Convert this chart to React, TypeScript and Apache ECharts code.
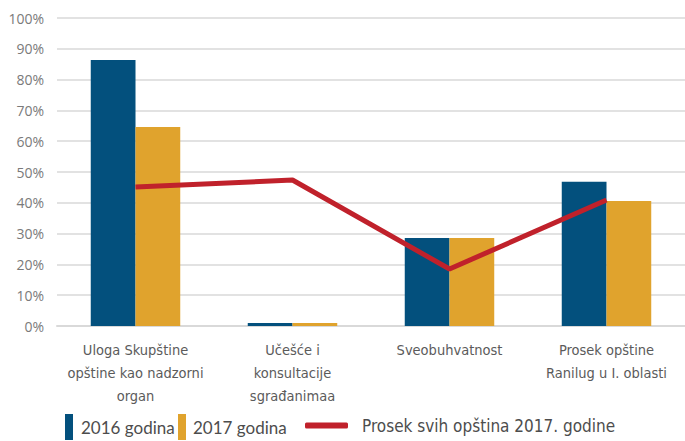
import React, { useEffect, useRef } from "react";
import * as echarts from "echarts";

const categories = [
  "Uloga Skupštine\nopštine kao nadzorni\norgan",
  "Učešće i\nkonsultacije\nsgrađanimaa",
  "Sveobuhvatnost",
  "Prosek opštine\nRanilug u I. oblasti",
];
const values2016 = [86.4, 1, 28.6, 46.8];
const values2017 = [64.6, 1, 28.6, 40.6];
const averageAll2017 = [45.1, 47.4, 18.5, 40.9];
const yTicks = [0, 10, 20, 30, 40, 50, 60, 70, 80, 90, 100];

const BLUE = "#03507d";
const ORANGE = "#e0a32d";
const RED = "#c0212b";
const NARROW = '"DejaVu Sans Condensed", "Liberation Sans Narrow", sans-serif';

export default function App() {
  const ref = useRef<HTMLDivElement>(null);
  useEffect(() => {
    if (!ref.current) return;
    const chart = echarts.init(ref.current, null, { renderer: "svg" });
    chart.setOption({
      animation: false,
      backgroundColor: "#ffffff",
      grid: { left: 57, top: 18, right: -7, height: 308, containLabel: false },
      xAxis: {
        type: "category",
        data: categories,
        axisTick: { show: false },
        axisLine: { lineStyle: { color: "#d9d9d9", width: 2 } },
        axisLabel: {
          interval: 0,
          margin: 12,
          color: "#5b5b5b",
          fontFamily: NARROW,
          fontSize: 14.5,
          lineHeight: 23,
        },
      },
      yAxis: {
        type: "value",
        min: yTicks[0],
        max: yTicks[yTicks.length - 1],
        interval: 10,
        axisLine: { show: false },
        axisTick: { show: false },
        splitLine: { lineStyle: { color: "#d9d9d9", width: 1.5 } },
        axisLabel: {
          formatter: "{value}%",
          margin: 13,
          color: "#7a7a7a",
          fontFamily: '"Open Sans", "Liberation Sans", sans-serif',
          fontSize: 14,
        },
      },
      legend: [
        {
          left: 65,
          top: 414,
          padding: 0,
          itemWidth: 8,
          itemHeight: 26,
          data: [{ name: "2016 godina", icon: "rect" }],
          textStyle: { color: "#4d4d4d", fontFamily: "Lato, sans-serif", fontSize: 17, padding: [0, 0, 0, 3] },
        },
        {
          left: 178,
          top: 414,
          padding: 0,
          itemWidth: 8,
          itemHeight: 26,
          data: [{ name: "2017 godina", icon: "rect" }],
          textStyle: { color: "#4d4d4d", fontFamily: "Lato, sans-serif", fontSize: 17, padding: [0, 0, 0, 2] },
        },
        {
          left: 305,
          top: 417,
          padding: 0,
          itemWidth: 43,
          itemHeight: 6,
          data: [{ name: "Prosek svih opština 2017. godine", icon: "roundRect" }],
          textStyle: { color: "#4d4d4d", fontFamily: NARROW, fontSize: 17, padding: [0, 0, 0, 9] },
        },
      ],
      series: [
        {
          name: "2016 godina",
          type: "bar",
          data: values2016,
          barGap: "0%",
          barCategoryGap: "43%",
          itemStyle: { color: BLUE },
        },
        {
          name: "2017 godina",
          type: "bar",
          data: values2017,
          itemStyle: { color: ORANGE },
        },
        {
          name: "Prosek svih opština 2017. godine",
          type: "line",
          data: averageAll2017,
          showSymbol: false,
          symbol: "none",
          lineStyle: { color: RED, width: 5 },
          itemStyle: { color: RED },
          z: 5,
        },
      ],
    });
    return () => chart.dispose();
  }, []);
  return (
    <div
      ref={ref}
      style={{ position: "absolute", left: 0, top: 0, width: 685, height: 441 }}
    />
  );
}
